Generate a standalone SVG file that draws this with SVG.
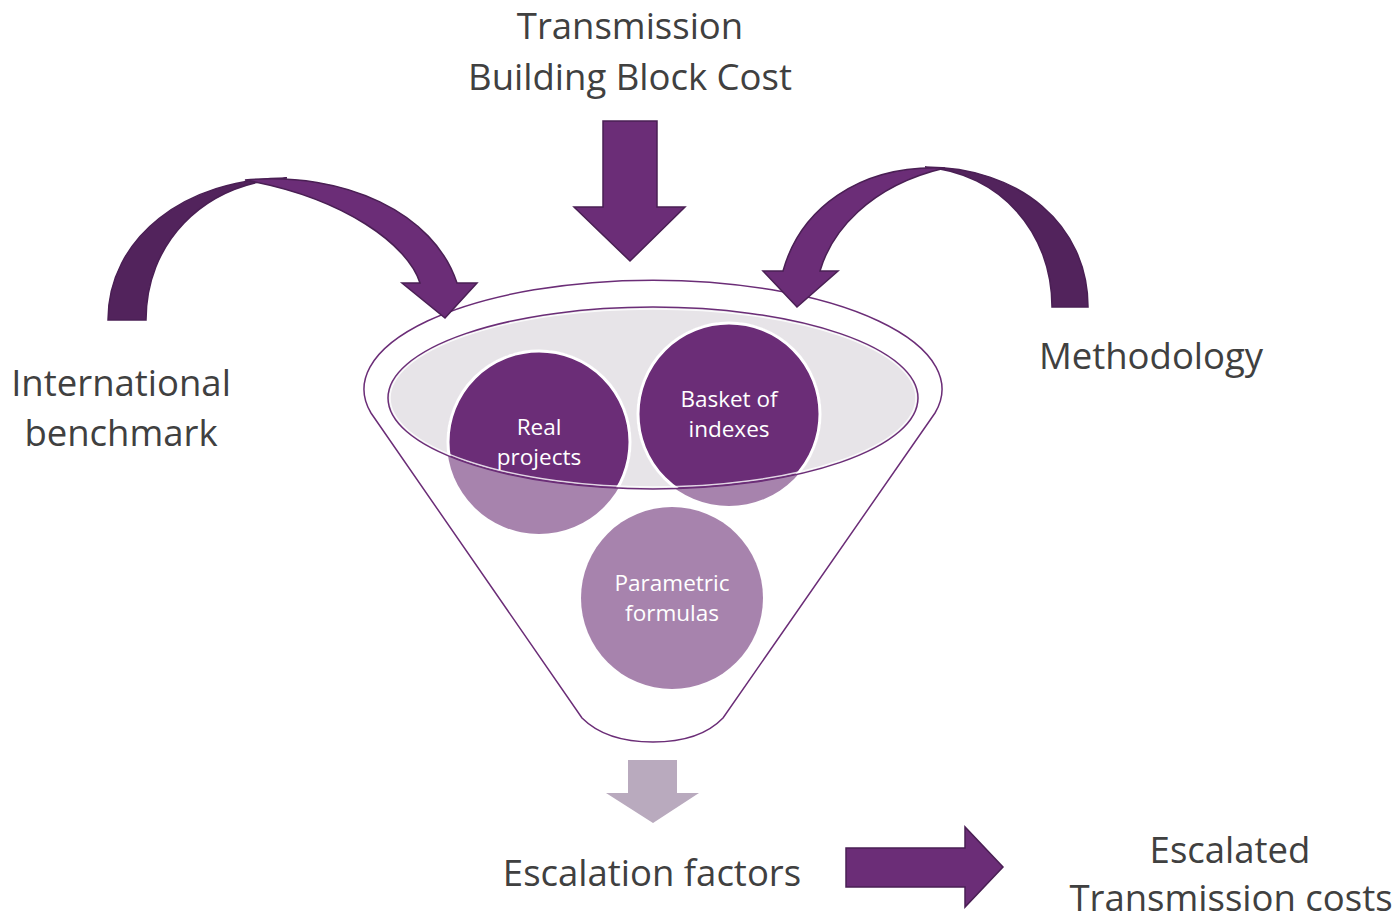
<svg xmlns="http://www.w3.org/2000/svg" width="1396" height="919" viewBox="0 0 1396 919">
<style>
.lbl{font-family:"Open Sans","Noto Sans","Liberation Sans",sans-serif;font-size:36.5px;fill:#404040;text-anchor:middle}
.ctx{font-family:"Open Sans","Noto Sans","Liberation Sans",sans-serif;font-size:22.5px;fill:#ffffff;text-anchor:middle}
.dark{fill:#52235C;stroke:#4A1F54;stroke-width:1.5}
.mid{fill:#6B2D77;stroke:#4A1F54;stroke-width:1.5}
.cl{fill:#A783AD}
.cd{fill:#6B2D77;stroke:#ffffff;stroke-width:3}
</style>
<defs>
<clipPath id="ellClip"><ellipse cx="653" cy="398" rx="265" ry="91"/></clipPath>
</defs>
<rect width="1396" height="919" fill="#ffffff"/>

<g id="funnel">
<path d="M371,413 A289,109 0 1 1 935,413 L723,718 Q700,742 653,742 Q606,742 582,718 Z" fill="#ffffff" stroke="#6B2D77" stroke-width="1.5"/>
<ellipse cx="653" cy="398" rx="265" ry="91" fill="#E7E4E8"/>
</g>

<g id="node-real-projects">
<circle class="cl" cx="539" cy="442" r="92"/>
<circle class="cd" cx="539" cy="442" r="91" clip-path="url(#ellClip)"/>
</g>
<g id="node-basket">
<circle class="cl" cx="729" cy="414" r="92"/>
<circle class="cd" cx="729" cy="414" r="91" clip-path="url(#ellClip)"/>
</g>
<g id="node-parametric">
<circle class="cl" cx="672" cy="598" r="91"/>
</g>
<g id="ellipse-outline">
<ellipse cx="653" cy="398" rx="263" ry="89" fill="none" stroke="#ffffff" stroke-width="1.5" opacity="0.8"/>
<ellipse cx="653" cy="398" rx="265" ry="91" fill="none" stroke="#6B2D77" stroke-width="1.5"/>
</g>
<g id="circle-labels">
<text class="ctx" x="539" y="435">Real</text>
<text class="ctx" x="539" y="465">projects</text>
<text class="ctx" x="729" y="407">Basket of</text>
<text class="ctx" x="729" y="437">indexes</text>
<text class="ctx" x="672" y="591">Parametric</text>
<text class="ctx" x="672" y="621">formulas</text>
</g>

<g id="connectors">
<path class="mid" d="M603,121 L657,121 L657,207 L685,207 L630,261 L574,207 L603,207 Z"/>
<path class="dark" d="M108,320 C108,238 185,178 287,178 C200,184 146,245 146,320 Z"/>
<path class="mid" d="M245,180 C345,171 434,213 457,283 L477,283 L445,318 L402,283 L420,283 C408,245 345,198 245,180 Z"/>
<path class="dark" d="M1088,307 C1088,225 1020,167 925,167 C1000,173 1052,232 1052,307 Z"/>
<path class="mid" d="M945,168 C858,164 800,210 783,271 L763,271 L797,307 L838,271 L820,271 C831,233 868,186 945,168 Z"/>
<path d="M628,760 L677,760 L677,793 L699,793 L653,823 L606,793 L628,793 Z" fill="#B9AABE"/>
<path class="mid" d="M846,848 L965,848 L965,827 L1003,867 L965,907 L965,887 L846,887 Z"/>
</g>

<g id="labels">
<text class="lbl" x="630" y="39">Transmission</text>
<text class="lbl" x="630" y="90">Building Block Cost</text>
<text class="lbl" x="121" y="396">International</text>
<text class="lbl" x="121" y="446">benchmark</text>
<text class="lbl" x="1151" y="369">Methodology</text>
<text class="lbl" x="652" y="886">Escalation factors</text>
<text class="lbl" x="1230" y="863">Escalated</text>
<text class="lbl" x="1231" y="911">Transmission costs</text>
</g>
</svg>
